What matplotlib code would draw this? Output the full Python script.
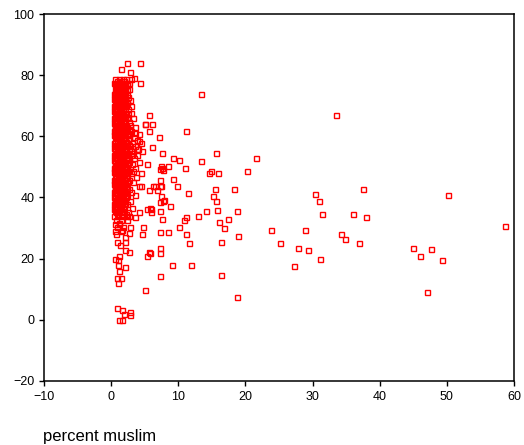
import matplotlib
matplotlib.use("Agg")
import matplotlib.pyplot as plt

# ---------------------------
# Data
# ---------------------------
# dense column of low-percentage points: (y, [x values]) per row
column_rows = [
    (78.6, [0.6, 1.1, 1.7, 2.2]),
    (77.5, [0.4, 0.9, 1.4, 2.0, 2.6]),
    (76.7, [0.7, 1.2, 1.8, 2.4]),
    (75.6, [0.5, 1.0, 1.5, 2.1, 2.7]),
    (74.8, [0.8, 1.3, 1.9]),
    (73.9, [0.4, 0.9, 1.6, 2.3]),
    (72.7, [0.6, 1.1, 1.7, 2.5]),
    (71.8, [0.5, 1.0, 1.4, 2.0, 2.8]),
    (70.9, [0.7, 1.3, 1.9, 2.4]),
    (69.8, [0.4, 0.9, 1.5, 2.1, 3.0]),
    (68.9, [0.6, 1.2, 1.8, 2.5]),
    (67.7, [0.5, 1.0, 1.6, 2.2, 2.9]),
    (66.8, [0.8, 1.4, 2.0]),
    (65.9, [0.4, 0.9, 1.5, 2.3, 3.3]),
    (64.8, [0.6, 1.1, 1.7, 2.6]),
    (63.7, [0.5, 1.0, 1.4, 2.0, 2.8]),
    (62.9, [0.7, 1.3, 1.9, 2.4, 3.6]),
    (61.8, [0.4, 0.9, 1.6, 2.2, 3.0]),
    (60.7, [0.6, 1.2, 1.8, 2.7, 4.1]),
    (59.9, [0.5, 1.0, 1.5, 2.1, 3.4]),
    (58.8, [0.8, 1.4, 2.0, 2.5, 3.9]),
    (57.7, [0.4, 0.9, 1.6, 2.3, 3.1, 4.4]),
    (56.9, [0.6, 1.1, 1.7, 2.8, 3.6]),
    (55.8, [0.5, 1.0, 1.3, 1.9, 2.6, 4.0]),
    (54.7, [0.7, 1.2, 1.8, 2.4, 3.2]),
    (53.9, [0.4, 0.9, 1.5, 2.1, 2.9, 3.8]),
    (52.8, [0.6, 1.1, 1.7, 2.5, 3.4]),
    (51.7, [0.5, 1.0, 1.4, 2.0, 2.7, 4.2]),
    (50.9, [0.8, 1.3, 1.9, 2.3, 3.1]),
    (49.8, [0.4, 0.9, 1.6, 2.2, 3.6]),
    (48.7, [0.6, 1.2, 1.8, 2.6, 3.3]),
    (47.9, [0.5, 1.0, 1.5, 2.1, 2.9, 4.5]),
    (46.8, [0.7, 1.3, 1.9, 2.4, 3.7]),
    (45.7, [0.4, 0.9, 1.4, 2.0, 2.7]),
    (44.9, [0.6, 1.1, 1.7, 2.3, 3.2]),
    (43.8, [0.5, 1.0, 1.6, 2.2, 4.1]),
    (42.7, [0.8, 1.3, 1.9, 2.6]),
    (41.9, [0.4, 0.9, 1.5, 2.1, 3.0]),
    (40.8, [0.6, 1.2, 1.8, 2.4, 3.5]),
    (39.7, [0.5, 1.0, 1.4, 2.0]),
    (38.9, [0.7, 1.3, 1.9, 2.8]),
    (37.8, [0.4, 0.9, 1.6, 2.3]),
    (36.6, [0.6, 1.1, 1.7, 3.1]),
    (35.7, [0.5, 1.2, 1.9]),
    (34.6, [0.8, 1.4, 2.2]),
    (33.8, [0.4, 1.0, 1.7, 2.6]),
    (32.5, [0.7, 1.5, 2.4]),
    (31.4, [0.5, 1.2]),
    (30.2, [0.9, 1.8, 2.8]),
    (29.1, [0.6, 1.4]),
]

# second pass of column points, sitting between the rows above
column_rows_b = [
    (78.1, [0.8, 1.4, 1.9]),
    (77.0, [0.6, 1.1, 1.6, 2.3]),
    (76.1, [0.9, 1.4, 2.0]),
    (75.2, [0.7, 1.2, 1.8, 2.4]),
    (74.3, [0.5, 1.1, 1.6, 2.1]),
    (73.3, [0.7, 1.3, 1.9]),
    (72.2, [0.4, 0.8, 1.4, 2.0]),
    (71.3, [0.7, 1.2, 1.7, 2.3]),
    (70.4, [0.5, 1.0, 1.6, 2.1]),
    (69.3, [0.7, 1.2, 1.8]),
    (68.3, [0.4, 0.9, 1.4, 2.1]),
    (67.2, [0.7, 1.2, 1.8, 2.5]),
    (66.3, [0.5, 1.1, 1.6, 2.3]),
    (65.3, [0.7, 1.2, 1.9]),
    (64.2, [0.4, 0.8, 1.4, 2.1]),
    (63.3, [0.6, 1.1, 1.6, 2.2]),
    (62.3, [0.5, 1.0, 1.5, 2.0, 2.7]),
    (61.2, [0.7, 1.2, 1.9, 2.5]),
    (60.3, [0.4, 0.9, 1.4, 2.3]),
    (59.4, [0.7, 1.2, 1.8, 2.6]),
    (58.2, [0.5, 1.1, 1.7, 2.2]),
    (57.3, [0.7, 1.3, 1.9, 2.6]),
    (56.3, [0.4, 0.8, 1.4, 2.1]),
    (55.2, [0.6, 1.1, 1.6, 2.2, 2.9]),
    (54.3, [0.5, 1.0, 1.5, 2.0]),
    (53.3, [0.7, 1.3, 1.8, 2.4]),
    (52.2, [0.4, 0.8, 1.4, 2.2]),
    (51.3, [0.6, 1.1, 1.7, 2.5]),
    (50.3, [0.5, 1.0, 1.5, 2.0]),
    (49.2, [0.7, 1.3, 1.9, 2.4]),
    (48.2, [0.4, 0.9, 1.4, 2.3]),
    (47.3, [0.7, 1.2, 1.7]),
    (46.3, [0.5, 1.0, 1.6, 2.2]),
    (45.2, [0.7, 1.2, 1.8]),
    (44.3, [0.4, 0.8, 1.4, 2.0]),
    (43.2, [0.6, 1.1, 1.7, 2.4]),
    (42.3, [0.5, 1.0, 1.5]),
    (41.3, [0.7, 1.3, 1.9]),
    (40.2, [0.4, 0.8, 1.5, 2.2]),
    (39.2, [0.6, 1.1, 1.7]),
    (38.3, [0.5, 1.0, 1.5, 2.1]),
    (37.2, [0.7, 1.3, 1.9]),
    (36.1, [0.4, 0.9, 1.5]),
    (35.1, [0.7, 1.0, 1.6]),
]

# points near the column (top, bottom and fringe)
near_x = [2.3, 4.3, 1.5, 2.8, 3.4, 3.0, 4.3, 5.7, 5.0, 6.1, 5.7, 7.1, 6.1, 7.5,
          9.2, 10.1, 8.5, 5.4, 0.8, 1.6, 2.8, 1.9, 2.8, 1.1, 1.6, 5.0, 0.8, 1.4,
          1.0, 1.2, 2.1, 0.5, 1.0, 1.2, 1.0, 2.0, 2.6, 5.6, 5.4, 2.1, 0.9, 1.3,
          0.7, 2.0, 2.6, 4.6, 4.8, 1.2, 1.6, 3.6, 1.0, 2.5, 2.3, 4.1, 5.3, 6.0,
          7.3, 7.8, 0.5, 5.6, 4.4, 6.3, 7.2, 3.5, 4.2, 3.8, 4.6, 5.1]
near_y = [83.9, 83.9, 81.9, 81.1, 79.2, 78.8, 77.5, 67.1, 63.9, 63.9, 61.6, 59.9,
          56.4, 54.4, 52.8, 52.3, 50.4, 50.8, 4.0, 3.3, 2.7, 2.0, 1.4, 0.0, 0.0,
          9.9, 13.5, 13.5, 11.9, 16.0, 17.4, 19.9, 19.4, 20.8, 17.9, 22.7, 22.3,
          22.2, 20.9, 25.3, 25.3, 24.5, 28.0, 27.1, 28.3, 28.0, 30.4, 31.6, 29.4,
          33.5, 35.2, 35.2, 33.9, 35.4, 36.2, 36.2, 38.6, 39.2, 38.4, 42.3, 43.9,
          43.8, 43.8, 61.0, 58.5, 56.0, 55.2, 64.0]

# spread-out points
spread_x = [13.4, 11.2, 15.6, 21.6, 13.4, 7.2, 7.5, 7.7, 7.4, 11.0, 14.8, 14.5,
            15.9, 20.2, 7.2, 9.2, 6.5, 7.4, 9.8, 6.9, 11.4, 15.4, 18.3, 15.2,
            15.6, 7.4, 7.7, 8.8, 5.8, 6.0, 7.2, 14.1, 15.7, 18.7, 12.9, 11.2,
            10.8, 7.5, 16.1, 17.4, 16.8, 23.8, 10.1, 7.2, 8.4, 11.2, 18.9, 11.6,
            16.4, 25.2, 27.8, 7.2, 7.2, 5.8, 9.0, 11.9, 27.3, 7.2, 16.3, 18.7,
            33.5, 30.3, 30.9, 31.4, 37.5, 36.0, 38.0, 28.8, 34.2, 34.8, 36.9,
            29.3, 31.1, 50.2, 58.6, 44.9, 47.7, 46.0, 49.3, 47.1]
spread_y = [74.0, 61.6, 54.4, 52.8, 52.0, 49.2, 49.8, 49.0, 50.2, 49.6, 48.8, 48.0,
            48.0, 48.8, 45.6, 46.0, 43.9, 43.6, 43.9, 42.3, 41.6, 42.7, 42.7, 40.4,
            38.8, 40.4, 38.8, 37.2, 36.4, 35.1, 35.5, 35.5, 36.0, 35.5, 34.0, 33.6,
            32.5, 32.8, 31.9, 33.1, 30.0, 29.5, 30.4, 28.8, 28.8, 28.0, 27.3, 25.2,
            25.5, 25.2, 23.5, 23.5, 21.7, 21.9, 17.9, 17.9, 17.5, 14.4, 14.7, 7.5,
            67.1, 41.2, 38.7, 34.7, 42.7, 34.7, 33.6, 29.2, 27.9, 26.4, 25.1,
            22.8, 19.9, 40.7, 30.7, 23.5, 23.1, 20.7, 19.5, 9.2]

x_ticks = [-10, 0, 10, 20, 30, 40, 50, 60]
y_ticks = [-20, 0, 20, 40, 60, 80, 100]

# flatten the column rows
col_x = []
col_y = []
for yv, xs in column_rows + column_rows_b:
    for xv in xs:
        col_x.append(xv)
        col_y.append(yv)

all_x = col_x + near_x + spread_x
all_y = col_y + near_y + spread_y

# ---------------------------
# Plot
# ---------------------------
plt.rcParams['font.family'] = ['Liberation Sans', 'DejaVu Sans']

fig = plt.figure(figsize=(5.24, 4.45), dpi=100)
ax = fig.add_axes([0.084, 0.144, 0.897, 0.8245])

ax.plot(all_x, all_y, linestyle='none', marker='s', markersize=3.6,
        markerfacecolor='none', markeredgecolor='#ff0000', markeredgewidth=1.0)

ax.set_xlim(-10, 60)
ax.set_ylim(-20, 100)
ax.set_xticks(x_ticks)
ax.set_yticks(y_ticks)
ax.tick_params(direction='out', length=3.5, width=1, labelsize=9, colors='black')
for side in ['left', 'right', 'top', 'bottom']:
    ax.spines[side].set_linewidth(1.1)
    ax.spines[side].set_color('black')

fig.text(0.082, 1 - 436 / 445, "percent muslim", fontsize=12, va='center', ha='left')

fig.savefig("out.png", dpi=100)
